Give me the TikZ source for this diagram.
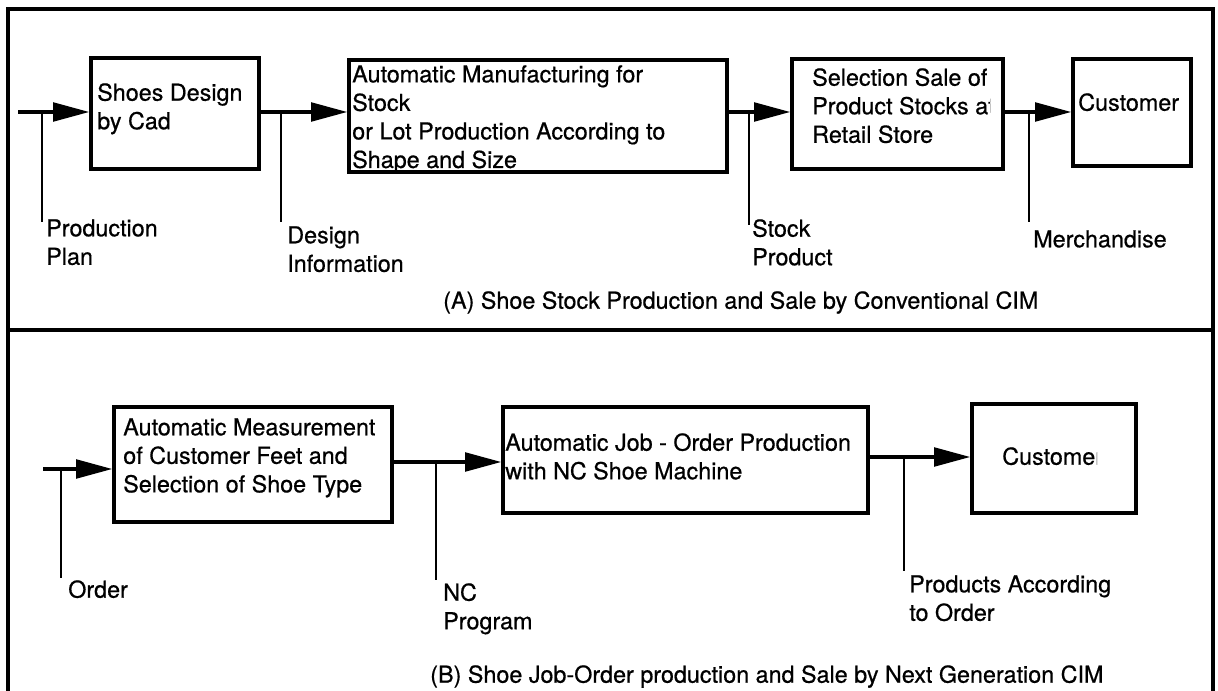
\documentclass[tikz,border=0pt]{standalone}
\usepackage{fontspec}
\setmainfont{TeX Gyre Heros}[FakeBold=0.6]
\usetikzlibrary{arrows.meta,fit}
\tikzset{
  boxnode/.style={draw, line width=2.7pt, inner sep=0pt},
  txt/.style={anchor=north west, inner sep=0pt, align=left, font=\fontsize{17.5}{21.4}\selectfont},
  flow/.style={line width=2.3pt, -{Triangle[length=27pt,width=14pt]}},
  tickline/.style={line width=2pt},
  framelines/.style={line width=2.6pt}
}
\begin{document}
\begin{tikzpicture}[x=0.75pt,y=-0.75pt]
\useasboundingbox (0,0) rectangle (1218,691);
% frame
\draw[framelines] (8,694) -- (8,9) -- (1213,9) -- (1213,694);
\draw[framelines] (8,330) -- (1213,330);

% ---------- panel A boxes ----------
\coordinate (b1a) at (91,58);   \coordinate (b1b) at (259,169);
\coordinate (b2a) at (349,60);  \coordinate (b2b) at (727,172);
\coordinate (b3a) at (792,59);  \coordinate (b3b) at (1003,169);
\coordinate (b4a) at (1073,59); \coordinate (b4b) at (1191,166);
\node[boxnode, fit=(b1a)(b1b)] (b1) {};
\node[boxnode, fit=(b2a)(b2b)] (b2) {};
\node[boxnode, fit=(b3a)(b3b)] (b3) {};
\node[boxnode, fit=(b4a)(b4b)] (b4) {};

\node[txt] (t1) at (97,83) {Shoes Design\\by Cad};
\node[txt] (t2) at (352,65) {Automatic Manufacturing for\\Stock\\or Lot Production According to\\Shape and Size};
\begin{scope}
  \clip (800,55) rectangle (990,170);
  \node[txt] (t3) at (812,68) {Selection Sale of\\Product Stocks at\\Retail Store};
\end{scope}
\node[txt] (t4) at (1078,93) {Customer};

% ---------- panel A connectors ----------
\coordinate (yA) at (0,112);
\coordinate (inA) at (18,112);
\coordinate (k1) at (42,222);
\coordinate (k2) at (281,222);
\coordinate (k3) at (749,225);
\coordinate (k4) at (1029,222);
\draw[flow] (inA) -- (inA -| b1.west);
\draw[flow] (b1.east |- yA) -- (b2.west |- yA);
\draw[flow] (b2.east |- yA) -- (b3.west |- yA);
\draw[flow] (b3.east |- yA) -- (b4.west |- yA);
\draw[tickline] (k1 |- yA) -- (k1);
\draw[tickline] (k2 |- yA) -- (k2);
\draw[tickline] (k3 |- yA) -- (k3);
\draw[tickline] (k4 |- yA) -- (k4);

\node[txt] (l1) at (46,219) {Production\\Plan};
\node[txt] (l2) at (287,226) {Design\\Information};
\node[txt] (l3) at (752,219) {Stock\\Product};
\node[txt] (l4) at (1033,230) {Merchandise};
\node[txt] (capA) at (443,291) {(A) Shoe Stock Production and Sale by Conventional CIM};

% ---------- panel B boxes ----------
\coordinate (b5a) at (114,407); \coordinate (b5b) at (392,522);
\coordinate (b6a) at (503,407); \coordinate (b6b) at (868,513);
\coordinate (b7a) at (972,404); \coordinate (b7b) at (1136,513);
\node[boxnode, fit=(b5a)(b5b)] (b5) {};
\node[boxnode, fit=(b6a)(b6b)] (b6) {};
\node[boxnode, fit=(b7a)(b7b)] (b7) {};

\node[txt] (t5) at (123,418) {Automatic Measurement\\of Customer Feet and\\Selection of Shoe Type};
\node[txt] (t6) at (505,433) {Automatic Job - Order Production\\with NC Shoe Machine};
\begin{scope}
  \clip (980,420) rectangle (1097,480);
  \node[txt] (t7) at (1002,447) {Customer};
\end{scope}

% ---------- panel B connectors ----------
\coordinate (y1) at (0,469);
\coordinate (y2) at (0,462);
\coordinate (y3) at (0,457);
\coordinate (inB) at (43,469);
\coordinate (k5) at (61,578);
\coordinate (k6) at (436,580);
\coordinate (k7) at (904,571);
\draw[flow] (inB) -- (inB -| b5.west);
\draw[flow] (b5.east |- y2) -- (b6.west |- y2);
\draw[flow] (b6.east |- y3) -- (b7.west |- y3);
\draw[tickline] (k5 |- y1) -- (k5);
\draw[tickline] (k6 |- y2) -- (k6);
\draw[tickline] (k7 |- y3) -- (k7);

\node[txt] (l5) at (68,580) {Order};
\node[txt] (l6) at (443,583) {NC\\Program};
\node[txt] (l7) at (909,575) {Products According\\to Order};
\node[txt] (capB) at (430,665) {(B) Shoe Job-Order production and Sale by Next Generation CIM};
\end{tikzpicture}
\end{document}
